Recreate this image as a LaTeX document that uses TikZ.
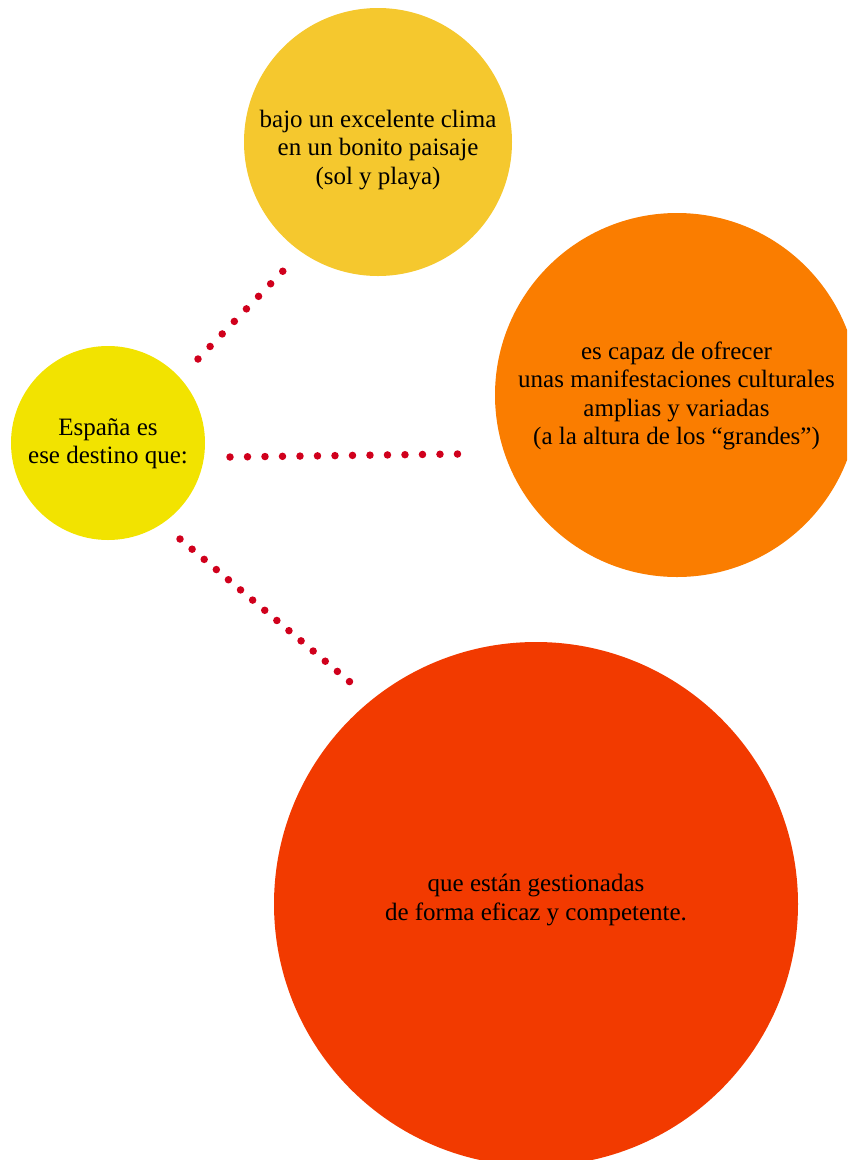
\documentclass[tikz,border=0pt]{standalone}
\usepackage{fontspec}
\setmainfont{Liberation Serif}
\usetikzlibrary{calc}
\definecolor{cyel}{RGB}{242,227,0}
\definecolor{cgold}{RGB}{245,200,46}
\definecolor{corange}{RGB}{250,125,0}
\definecolor{cred}{RGB}{242,58,0}
\definecolor{cdot}{RGB}{208,0,28}
\begin{document}
\begin{tikzpicture}[x=1pt,y=-1pt,
  disc/.style={circle,inner sep=0pt,draw=none},
  txt/.style={align=center,inner sep=0pt,text=black,font=\fontsize{25}{28.5}\selectfont},
  dotline/.style={draw=cdot,line width=7.5pt,line cap=round,dash pattern=on 0pt off #1}]
\useasboundingbox (0,0) rectangle (847,1160);
\begin{scope}
\clip (0,0) rectangle (847,1160);
% circles
\node[disc,fill=cyel,minimum size=194pt] (yel) at (108,443) {};
\node[disc,fill=cgold,minimum size=268pt] (gold) at (378,142) {};
\node[disc,fill=corange,minimum size=364pt] (orange) at (677,395) {};
\node[disc,fill=cred,minimum size=524pt] (red) at (536,904) {};
% texts
\node[txt] (yelt) at (108,443.8) {España es\\ese destino que:};
\node[txt] (goldt) at (378,150) {bajo un excelente clima\\en un bonito paisaje\\(sol y playa)};
\node[txt] (oranget) at (676.5,396) {es capaz de ofrecer\\unas manifestaciones culturales\\amplias y variadas\\(a la altura de los “grandes”)};
\node[txt,font=\fontsize{25}{29.3}\selectfont] (redt) at (536,900) {que están gestionadas\\de forma eficaz y competente.};
% connector ends
\coordinate (u1) at ($(yel.center)+(90,-84)$);
\coordinate (u2) at ($(gold.center)+(-95,129)$);
\coordinate (h1) at ($(yel.center)+(122,14)$);
\coordinate (h2) at ($(orange.center)+(-219,59)$);
\coordinate (d1) at ($(yel.center)+(72,96)$);
\coordinate (d2) at ($(red.center)+(-186,-222)$);
% dotted connectors
\draw[dotline=17.43pt] (u1) -- (u2);
\draw[dotline=17.50pt] (h1) -- (h2);
\draw[dotline=15.82pt] (d1) -- (d2);
\end{scope}
\end{tikzpicture}
\end{document}
